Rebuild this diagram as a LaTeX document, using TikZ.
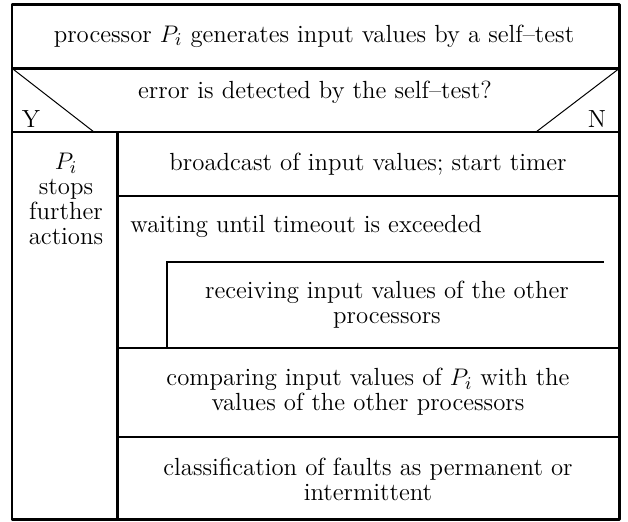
\documentclass[tikz,border=0pt]{standalone}
\usepackage{tikz}
\usepackage{tkz-base}
\usepackage{tkz-euclide}

\begin{document}
\begin{tikzpicture}[x=0.5pt,y=-0.5pt,
  txt/.style={align=center,inner sep=0pt,font=\fontsize{12.4}{12.5}\selectfont},
  frame/.style={line width=1.4pt,line cap=rect}]
  \useasboundingbox (0,0) rectangle (628,521);

  \tkzDefPoint(12,4.7){A} \tkzDefPoint(619.5,4.7){B}
  \tkzDefPoint(619.5,519.5){C} \tkzDefPoint(12,519.5){D}
  \tkzDefPoint(12,68.3){E} \tkzDefPoint(619.5,68.3){F}
  \tkzDefPoint(12,132){G} \tkzDefPoint(619.5,132){H}
  \tkzDefPoint(117.3,132){I} \tkzDefPoint(117.3,519.5){J}
  \tkzDefPoint(117.3,196){K} \tkzDefPoint(619.5,196){L}
  \tkzDefPoint(167,262){M} \tkzDefPoint(603,262){P}
  \tkzDefPoint(167,348){Q}
  \tkzDefPoint(117.3,348){R} \tkzDefPoint(619.5,348){S}
  \tkzDefPoint(117.3,437){T} \tkzDefPoint(619.5,437){U}
  \tkzDefPoint(94,132){V} \tkzDefPoint(536,132){W}

  \tkzDrawPolygon[frame](A,B,C,D)
  \tkzDrawSegments[frame](E,F G,H I,J K,L R,S T,U M,P M,Q)
  %\tkzDrawSegment(E,V)
  \tkzDrawSegments[line width=0.5pt](E,V F,W)

  \node[txt] (gen) at (314,36) {processor $P_i$ generates input values by a self--test};
  \node[txt] (test) at (315,92) {error is detected by the self--test?};
  \node[txt,anchor=base] (yes) at (31,127) {Y};
  \node[txt,anchor=base] (no) at (597,127) {N};
  \node[txt] (stop) at (66,199) {$P_i$\\stops\\further\\actions};
  \node[txt] (bcast) at (368,164) {broadcast of input values; start timer};
  \node[txt,anchor=west] (wait) at (130,226) {waiting until timeout is exceeded};
  \node[txt] (recv) at (387,305) {receiving input values of the other\\processors};
  \node[txt] (cmp) at (368,392) {comparing input values of $P_i$ with the\\values of the other processors};
  \node[txt] (cls) at (368,479) {classification of faults as permanent or\\intermittent};

\end{tikzpicture}
\end{document}
